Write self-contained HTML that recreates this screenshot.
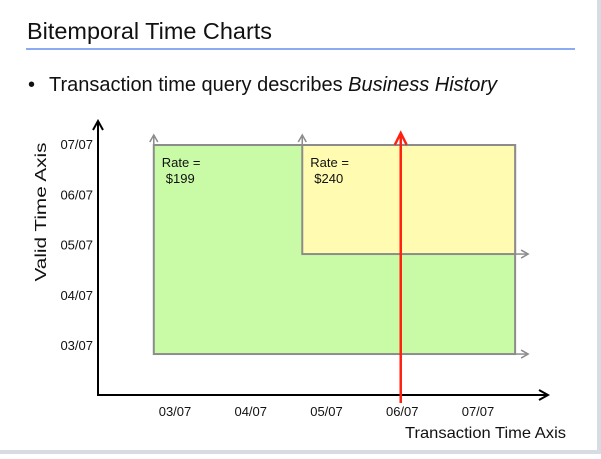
<!DOCTYPE html>
<html><head><meta charset="utf-8"><style>
body{margin:0;background:#fff;width:601px;height:454px;overflow:hidden;font-family:"Liberation Sans",sans-serif;}
</style></head><body>
<svg width="601" height="454" xmlns="http://www.w3.org/2000/svg" font-family="Liberation Sans, sans-serif">
<defs>
<marker id="ga" markerWidth="10" markerHeight="10" refX="8" refY="5" orient="auto" markerUnits="userSpaceOnUse"><path d="M1,1 L8,5 L1,9" fill="none" stroke="#8c8c8c" stroke-width="1.5"/></marker>
<marker id="ka" markerWidth="12" markerHeight="12" refX="10" refY="6" orient="auto" markerUnits="userSpaceOnUse"><path d="M1,1 L10,6 L1,11" fill="none" stroke="#000" stroke-width="2"/></marker>
<marker id="ra" markerWidth="16" markerHeight="14" refX="13" refY="7" orient="auto" markerUnits="userSpaceOnUse"><path d="M1,1 L13,7 L1,13" fill="none" stroke="#ff2010" stroke-width="2.5"/></marker>
</defs>
<rect x="597" y="0" width="4" height="454" fill="#d6dbe4"/>
<rect x="0" y="450" width="601" height="4" fill="#d6dbe4"/>
<text x="27" y="39" font-size="23" fill="#111" textLength="245" lengthAdjust="spacingAndGlyphs">Bitemporal Time Charts</text>
<rect x="26" y="48" width="549" height="2" fill="#8aaaf2"/>
<text x="28" y="91" font-size="20" fill="#111">•</text>
<text x="49" y="91" font-size="20" fill="#111" textLength="448" lengthAdjust="spacingAndGlyphs">Transaction time query describes <tspan font-style="italic">Business History</tspan></text>
<g id="chart"></g>
</svg>
<script>
const xTickLabels=["03/07","04/07","05/07","06/07","07/07"];
const xTickValues=[3,4,5,6,7];
const yTickLabels=["03/07","04/07","05/07","06/07","07/07"];
const yTickValues=[3,4,5,6,7];
const rateNames=["Rate =","Rate ="];
const rateValues=["$199","$240"];
const rectX0=[2.72,4.68];
const rectX1=[7.49,7.49];
const rectY0=[2.82,4.81];
const rectY1=[6.98,6.98];
const rectFill=["#c9fba6","#fffbb0"];
const queryTime=[5.98];
const NS="http://www.w3.org/2000/svg";
const g=document.getElementById('chart');
const xs=m=>175+(m-3)*75.75;
const ys=m=>345-(m-3)*50.25;
function mk(t,a,p){const e=document.createElementNS(NS,t);for(const k in a)e.setAttribute(k,a[k]);(p||g).appendChild(e);return e;}
let t=mk('text',{x:0,y:0,'font-size':16,fill:'#111','text-anchor':'middle',textLength:139,lengthAdjust:'spacingAndGlyphs',transform:'translate(46,212) rotate(-90)'});
t.textContent='Valid Time Axis';


t=mk('text',{x:405,y:438,'font-size':16,fill:'#111',textLength:161,lengthAdjust:'spacingAndGlyphs'});
t.textContent='Transaction Time Axis';


for(let i=0;i<rectX0.length;i++){
 const x0=xs(rectX0[i]),x1=xs(rectX1[i]),y0=ys(rectY1[i]),y1=ys(rectY0[i]);
 let r=mk('rect',{x:x0,y:y0,width:x1-x0,height:y1-y0,fill:rectFill[i],stroke:'#8c8c8c','stroke-width':2});
 
 
 let a=mk('line',{x1:x0,y1:y0,x2:x0,y2:y0-10,stroke:'#8c8c8c','stroke-width':1.5,'marker-end':'url(#ga)'});
 
 
 a=mk('line',{x1:x1,y1:y1,x2:x1+13,y2:y1,stroke:'#8c8c8c','stroke-width':1.5,'marker-end':'url(#ga)'});
 
 
 let l=mk('text',{x:x0+8,y:y0+22,'font-size':13,fill:'#111'});
 l.textContent=rateNames[i];
 
 
 l=mk('text',{x:x0+12,y:y0+38,'font-size':13,fill:'#111'});
 l.textContent=rateValues[i];
 
 
}
let ax=mk('path',{d:'M98,395 L98,121',fill:'none',stroke:'#000','stroke-width':2,'marker-end':'url(#ka)'});


ax=mk('path',{d:'M97,395 L548,395',fill:'none',stroke:'#000','stroke-width':2,'marker-end':'url(#ka)'});


xTickValues.forEach((v,i)=>{const e=mk('text',{x:xs(v),y:416,'font-size':13,fill:'#111','text-anchor':'middle'});e.textContent=xTickLabels[i];

});
yTickValues.forEach((v,i)=>{const e=mk('text',{x:93,y:ys(v)+5,'font-size':13,fill:'#111','text-anchor':'end'});e.textContent=yTickLabels[i];

});
queryTime.forEach(q=>{const e=mk('line',{x1:xs(q),y1:403,x2:xs(q),y2:133,stroke:'#ff2010','stroke-width':2.5,'marker-end':'url(#ra)'});

});
</script>
</body></html>
